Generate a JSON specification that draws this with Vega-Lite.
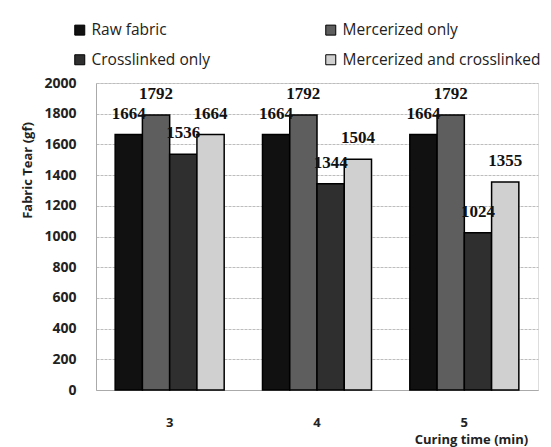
{
  "$schema": "https://vega.github.io/schema/vega-lite/v6.json",
  "width": 442,
  "height": 307,
  "autosize": {"type": "none"},
  "padding": {"left": 96, "top": 83, "right": 13, "bottom": 57},
  "background": "white",
  "data": {
    "values": [
      {"time": "3", "series": "Raw fabric", "tear": 1664},
      {"time": "3", "series": "Mercerized only", "tear": 1792},
      {"time": "3", "series": "Crosslinked only", "tear": 1536},
      {"time": "3", "series": "Mercerized and crosslinked", "tear": 1664},
      {"time": "4", "series": "Raw fabric", "tear": 1664},
      {"time": "4", "series": "Mercerized only", "tear": 1792},
      {"time": "4", "series": "Crosslinked only", "tear": 1344},
      {"time": "4", "series": "Mercerized and crosslinked", "tear": 1504},
      {"time": "5", "series": "Raw fabric", "tear": 1664},
      {"time": "5", "series": "Mercerized only", "tear": 1792},
      {"time": "5", "series": "Crosslinked only", "tear": 1024},
      {"time": "5", "series": "Mercerized and crosslinked", "tear": 1355}
    ]
  },
  "encoding": {
    "x": {
      "field": "time", "type": "nominal",
      "scale": {"paddingInner": 0.26, "paddingOuter": 0.13},
      "axis": {
        "title": "Curing time (min)",
        "labelAngle": 0,
        "labelFont": "Open Sans", "labelFontSize": 13, "labelFontWeight": "bold", "labelColor": "#222",
        "labelPadding": 26,
        "tickSize": 0,
        "domainColor": "#aaa",
        "titleFont": "Open Sans", "titleFontSize": 13, "titleFontWeight": "bold", "titleColor": "#222",
        "titleX": 375, "titleY": 49, "titleAlign": "center", "titleBaseline": "middle"
      }
    },
    "xOffset": {
      "field": "series", "type": "nominal",
      "sort": ["Raw fabric", "Mercerized only", "Crosslinked only", "Mercerized and crosslinked"],
      "scale": {"paddingInner": 0, "paddingOuter": 0}
    },
    "y": {
      "field": "tear", "type": "quantitative",
      "scale": {"domain": [0, 2000], "nice": false},
      "axis": {
        "title": "Fabric Tear (gf)",
        "values": [0, 200, 400, 600, 800, 1000, 1200, 1400, 1600, 1800, 2000],
        "format": "d",
        "labelFont": "Open Sans", "labelFontSize": 14, "labelFontWeight": "bold", "labelColor": "#222",
        "labelPadding": 20,
        "tickSize": 0,
        "domainColor": "#aaa",
        "grid": true, "gridColor": "#bdbdbd", "gridDash": [3, 1],
        "titleFont": "Open Sans", "titleFontSize": 13, "titleFontWeight": "bold", "titleColor": "#222",
        "titleX": -69, "titleY": 87, "titleAlign": "center", "titleBaseline": "middle", "titleAngle": -90
      }
    }
  },
  "layer": [
    {
      "mark": {"type": "bar", "stroke": "black", "strokeWidth": 1.5},
      "encoding": {
        "fill": {
          "field": "series", "type": "nominal",
          "scale": {
            "domain": ["Raw fabric", "Crosslinked only", "Mercerized only", "Mercerized and crosslinked"],
            "range": ["#111111", "#2f2f2f", "#5e5e5e", "#d0d0d0"]
          },
          "legend": {
            "title": null,
            "orient": "none",
            "legendX": -24,
            "legendY": -61,
            "columns": 2,
            "columnPadding": 113,
            "rowPadding": 13,
            "symbolType": "square",
            "symbolSize": 100,
            "symbolStrokeColor": "black",
            "symbolStrokeWidth": 1,
            "symbolOpacity": 1,
            "labelFont": "Open Sans",
            "labelFontSize": 15.5,
            "labelColor": "#222",
            "labelOffset": 4,
            "labelLimit": 300
          }
        }
      }
    },
    {
      "mark": {"type": "text", "baseline": "middle", "align": "center", "dy": -21, "font": "Liberation Serif", "fontSize": 17, "fontWeight": "bold", "color": "#111"},
      "encoding": {
        "text": {"field": "tear", "type": "quantitative", "format": "d"}
      }
    }
  ]
}
